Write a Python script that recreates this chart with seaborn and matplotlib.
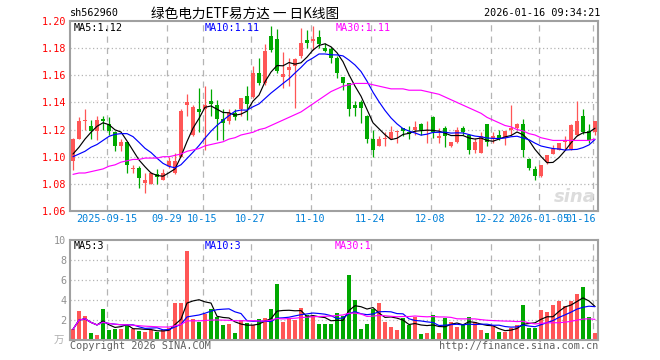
import numpy as np
import pandas as pd
import matplotlib
matplotlib.use("Agg")
import matplotlib.pyplot as plt
from matplotlib import transforms
import seaborn as sns

# ---------------- data ----------------
dates = [
    "2025-09-05", "2025-09-08", "2025-09-09", "2025-09-10", "2025-09-11", "2025-09-12",
    "2025-09-15", "2025-09-16", "2025-09-17", "2025-09-18", "2025-09-19", "2025-09-22",
    "2025-09-23", "2025-09-24", "2025-09-25", "2025-09-26", "2025-09-29", "2025-09-30",
    "2025-10-09", "2025-10-10", "2025-10-13", "2025-10-14", "2025-10-15", "2025-10-16",
    "2025-10-17", "2025-10-20", "2025-10-21", "2025-10-22", "2025-10-23", "2025-10-24",
    "2025-10-27", "2025-10-28", "2025-10-29", "2025-10-30", "2025-10-31",
    "2025-11-03", "2025-11-04", "2025-11-05", "2025-11-06", "2025-11-07",
    "2025-11-10", "2025-11-11", "2025-11-12", "2025-11-13", "2025-11-14",
    "2025-11-17", "2025-11-18", "2025-11-19", "2025-11-20", "2025-11-21",
    "2025-11-24", "2025-11-25", "2025-11-26", "2025-11-27", "2025-11-28",
    "2025-12-01", "2025-12-02", "2025-12-03", "2025-12-04", "2025-12-05",
    "2025-12-08", "2025-12-09", "2025-12-10", "2025-12-11", "2025-12-12",
    "2025-12-15", "2025-12-16", "2025-12-17", "2025-12-18", "2025-12-19",
    "2025-12-22", "2025-12-23", "2025-12-24", "2025-12-25", "2025-12-26",
    "2025-12-29", "2025-12-30", "2025-12-31",
    "2026-01-05", "2026-01-06", "2026-01-07", "2026-01-08", "2026-01-09",
    "2026-01-12", "2026-01-13", "2026-01-14", "2026-01-15", "2026-01-16",
]

opens = [1.097, 1.113, 1.126, 1.123, 1.119, 1.128, 1.124, 1.118, 1.108, 1.111,
         1.091, 1.092, 1.081, 1.080, 1.087, 1.083, 1.093, 1.088, 1.100, 1.138,
         1.116, 1.135, 1.135, 1.141, 1.138, 1.128, 1.126, 1.132, 1.135, 1.145,
         1.144, 1.162, 1.154, 1.189, 1.187, 1.159, 1.164, 1.167, 1.174, 1.186,
         1.185, 1.188, 1.180, 1.179, 1.173, 1.159, 1.154, 1.138, 1.140, 1.130,
         1.113, 1.108, 1.113, 1.113, 1.118, 1.121, 1.118, 1.120, 1.124, 1.119,
         1.129, 1.114, 1.121, 1.108, 1.111, 1.121, 1.116, 1.105, 1.103, 1.124,
         1.114, 1.116, 1.114, 1.120, 1.121, 1.124, 1.098, 1.091, 1.086, 1.096,
         1.102, 1.105, 1.111, 1.106, 1.116, 1.130, 1.119, 1.118]
highs = [1.114, 1.129, 1.135, 1.127, 1.130, 1.130, 1.129, 1.119, 1.113, 1.111,
         1.094, 1.093, 1.088, 1.089, 1.091, 1.091, 1.100, 1.103, 1.135, 1.146,
         1.138, 1.151, 1.152, 1.150, 1.142, 1.135, 1.135, 1.135, 1.143, 1.152,
         1.167, 1.173, 1.183, 1.196, 1.194, 1.177, 1.173, 1.173, 1.195, 1.193,
         1.196, 1.193, 1.184, 1.181, 1.174, 1.159, 1.154, 1.141, 1.142, 1.131,
         1.120, 1.115, 1.118, 1.123, 1.119, 1.121, 1.123, 1.126, 1.125, 1.126,
         1.130, 1.121, 1.123, 1.111, 1.122, 1.123, 1.117, 1.114, 1.118, 1.124,
         1.118, 1.120, 1.119, 1.138, 1.125, 1.128, 1.099, 1.093, 1.094, 1.101,
         1.109, 1.110, 1.115, 1.124, 1.141, 1.135, 1.124, 1.126]
lows = [1.090, 1.113, 1.120, 1.113, 1.112, 1.120, 1.116, 1.104, 1.104, 1.088,
        1.088, 1.077, 1.073, 1.080, 1.080, 1.083, 1.092, 1.087, 1.100, 1.130,
        1.115, 1.118, 1.105, 1.130, 1.112, 1.112, 1.124, 1.127, 1.130, 1.127,
        1.143, 1.153, 1.153, 1.177, 1.162, 1.151, 1.152, 1.136, 1.173, 1.180,
        1.179, 1.180, 1.177, 1.169, 1.158, 1.149, 1.130, 1.130, 1.125, 1.110,
        1.100, 1.108, 1.108, 1.113, 1.110, 1.115, 1.113, 1.116, 1.116, 1.110,
        1.114, 1.110, 1.107, 1.107, 1.110, 1.116, 1.102, 1.103, 1.103, 1.108,
        1.110, 1.112, 1.109, 1.116, 1.120, 1.100, 1.090, 1.083, 1.085, 1.095,
        1.102, 1.105, 1.105, 1.105, 1.115, 1.117, 1.110, 1.116]
closes = [1.113, 1.126, 1.127, 1.119, 1.127, 1.126, 1.119, 1.108, 1.111, 1.094,
          1.091, 1.084, 1.083, 1.088, 1.085, 1.088, 1.097, 1.097, 1.134, 1.140,
          1.137, 1.133, 1.138, 1.139, 1.128, 1.125, 1.132, 1.129, 1.143, 1.139,
          1.162, 1.154, 1.178, 1.179, 1.163, 1.161, 1.166, 1.172, 1.184, 1.184,
          1.187, 1.183, 1.178, 1.173, 1.162, 1.154, 1.135, 1.136, 1.136, 1.113,
          1.105, 1.113, 1.114, 1.118, 1.118, 1.119, 1.117, 1.122, 1.120, 1.120,
          1.118, 1.114, 1.115, 1.111, 1.120, 1.118, 1.105, 1.111, 1.115, 1.111,
          1.115, 1.113, 1.119, 1.120, 1.124, 1.105, 1.092, 1.086, 1.094, 1.101,
          1.106, 1.110, 1.111, 1.123, 1.126, 1.118, 1.112, 1.126]
volumes = [1.07, 2.90, 2.40, 0.67, 0.50, 3.07, 0.97, 1.07, 1.07, 1.47,
           1.07, 0.90, 0.83, 0.97, 0.83, 1.00, 1.23, 3.67, 3.67, 8.90,
           2.07, 1.83, 2.60, 3.07, 2.30, 1.47, 1.57, 0.67, 1.97, 1.73,
           1.50, 2.07, 2.23, 3.07, 5.57, 1.83, 2.17, 1.97, 3.17, 2.50,
           2.40, 1.57, 1.57, 1.57, 2.73, 2.40, 6.47, 3.97, 1.07, 1.57,
           3.13, 3.73, 1.80, 1.30, 0.97, 2.17, 1.50, 2.30, 0.57, 0.67,
           2.47, 0.73, 2.17, 1.83, 1.30, 1.57, 2.27, 1.83, 0.97, 0.67,
           1.40, 0.80, 0.83, 1.23, 1.50, 3.47, 1.23, 1.17, 2.97, 2.77,
           3.50, 3.90, 3.40, 3.90, 4.57, 5.30, 2.33, 0.67]

# moving-average values read where the window reaches before the first shown day
ma5_head = [1.102, 1.107, 1.113, 1.118]
ma10_head = [1.100, 1.102, 1.104, 1.107, 1.109, 1.112, 1.115, 1.1165, 1.117]
ma30 = [1.087, 1.088, 1.088, 1.089, 1.090, 1.091, 1.093, 1.094, 1.096, 1.097,
        1.098, 1.098, 1.099, 1.099, 1.099, 1.100, 1.100, 1.101, 1.102, 1.104,
        1.105, 1.106, 1.108, 1.109, 1.110, 1.111, 1.113, 1.114, 1.116, 1.117,
        1.118, 1.120, 1.121, 1.123, 1.125, 1.127, 1.129, 1.131, 1.133, 1.136,
        1.139, 1.142, 1.145, 1.148, 1.150, 1.152, 1.153, 1.154, 1.154, 1.154,
        1.153, 1.152, 1.151, 1.150, 1.150, 1.150, 1.149, 1.149, 1.149, 1.148,
        1.147, 1.146, 1.144, 1.142, 1.140, 1.138, 1.136, 1.134, 1.132, 1.129,
        1.127, 1.125, 1.123, 1.122, 1.120, 1.119, 1.117, 1.116, 1.114, 1.113,
        1.112, 1.112, 1.112, 1.112, 1.112, 1.112, 1.112, 1.113]

tick_dates = ["2025-09-15", "2025-09-29", "2025-10-15", "2025-10-27", "2025-11-10",
              "2025-11-24", "2025-12-08", "2025-12-22", "2026-01-05", "2026-01-16"]
tick_labels = ["2025-09-15", "09-29", "10-15", "10-27", "11-10",
               "11-24", "12-08", "12-22", "2026-01-05", "01-16"]
price_ticks = [1.06, 1.08, 1.10, 1.12, 1.14, 1.16, 1.18, 1.20]
price_tick_labels = ["1.06", "1.08", "1.10", "1.12", "1.14", "1.16", "1.18", "1.20"]
vol_ticks = [2, 4, 6, 8, 10]
vol_tick_labels = ["2", "4", "6", "8", "10"]

title = "绿色电力ETF易方达 一 日K线图"
code = "sh562960"
stamp = "2026-01-16 09:34:21"
price_ma_labels = ["MA5:1.12", "MA10:1.11", "MA30:1.11"]
vol_ma_labels = ["MA5:3", "MA10:3", "MA30:1"]

# ---------------- style ----------------
sns.set_style("white")
plt.rcParams["font.family"] = ["DejaVu Sans Mono", "Noto Sans CJK SC"]

RED = "#ff5656"
GREEN = "#00a800"
GRID = "#b4b4b4"
FRAME = "#a0a0a0"
MA_COLORS = ["#000000", "#0000ff", "#ff00ff"]
W, H = 660, 360
FS = 7.3

n = len(dates)
idx = np.arange(n)
df = pd.DataFrame({"idx": idx, "open": opens, "high": highs, "low": lows,
                   "close": closes, "vol": volumes})
df["dir"] = np.where(df["close"] >= df["open"], "up", "down")

ma5 = df["close"].rolling(5).mean().to_numpy()
ma5[:len(ma5_head)] = ma5_head
ma10 = df["close"].rolling(10).mean().to_numpy()
ma10[:len(ma10_head)] = ma10_head
vma5 = df["vol"].rolling(5, min_periods=1).mean().to_numpy()
vma10 = df["vol"].rolling(10, min_periods=1).mean().to_numpy()
vma30 = df["vol"].rolling(30, min_periods=1).mean().to_numpy()

fig = plt.figure(figsize=(W / 100, H / 100), dpi=100)
fig.patch.set_facecolor("white")


def px_axes(x0, y0, x1, y1):
    return fig.add_axes([x0 / W, 1 - y1 / H, (x1 - x0) / W, (y1 - y0) / H])


ax = px_axes(70, 21, 598, 211)
axv = px_axes(70, 240, 598, 340)

tick_pos = [dates.index(d) for d in tick_dates]
grid_x = [p - 0.4 for p in tick_pos]

# ---------------- price panel ----------------
cols = np.where(df["dir"] == "up", RED, GREEN)
ax.vlines(idx, df["low"], df["high"], colors=cols, lw=0.9, zorder=2)
body_bottom = np.minimum(df["open"], df["close"])
body_h = np.maximum(np.abs(df["close"] - df["open"]), 0.0009)
ax.bar(idx, body_h, bottom=body_bottom, width=0.8, color=cols, lw=0, zorder=3)

for vals, c in zip([ma5, ma10, ma30], MA_COLORS):
    sns.lineplot(x=idx, y=vals, color=c, lw=0.85, ax=ax, zorder=4)

ax.set_ylim(1.06, 1.20)
ax.set_yticks(price_ticks)
ax.set_yticklabels(price_tick_labels, color="#ff0000", fontsize=FS)
for yv in price_ticks[1:-1]:
    ax.axhline(yv, color=GRID, lw=0.9, ls=(0, (1, 2)), zorder=0)

for lbl, c, xp in zip(price_ma_labels, MA_COLORS, [74, 205, 336]):
    fig.text(xp / W, 1 - 23 / H, lbl, color=c, fontsize=FS, ha="left", va="top")

trans = transforms.blended_transform_factory(ax.transData, fig.transFigure)
for gx, lab in zip(grid_x, tick_labels):
    ha = "center"
    xx = gx
    if lab == tick_labels[-1]:
        ha = "right"
        xx = gx + 0.5
    ax.text(xx, 1 - 219 / H, lab, transform=trans, color="#0080d8",
            fontsize=FS, ha=ha, va="center", clip_on=False)

fig.text(596 / W, 1 - 197 / H, "sina", color="#dcdcdc", fontsize=13,
         fontstyle="italic", fontweight="bold", ha="right", va="center",
         family="DejaVu Sans")

# ---------------- volume panel ----------------
sns.barplot(data=df, x="idx", y="vol", hue="dir", order=list(idx),
            palette={"up": RED, "down": GREEN}, dodge=False,
            width=0.8, saturation=1, legend=False, errorbar=None,
            linewidth=0, ax=axv, zorder=2)
for vals, c in zip([vma5, vma10, vma30], MA_COLORS):
    sns.lineplot(x=idx, y=vals, color=c, lw=0.85, ax=axv, zorder=4)

axv.set_ylim(0, 10)
axv.set_yticks(vol_ticks)
axv.set_yticklabels(vol_tick_labels, color="#909090", fontsize=FS)
for yv in vol_ticks[:-1]:
    axv.axhline(yv, color=GRID, lw=0.9, ls=(0, (1, 2)), zorder=0)

for lbl, c, xp in zip(vol_ma_labels, MA_COLORS, [74, 205, 335]):
    fig.text(xp / W, 1 - 241 / H, lbl, color=c, fontsize=FS, ha="left", va="top")

for a in (ax, axv):
    a.set_facecolor("white")
    for s in a.spines.values():
        s.set_color(FRAME)
        s.set_linewidth(1.5)
    for gx in grid_x:
        a.axvline(gx, color=GRID, lw=0.9, ls=(0, (5, 4)), zorder=0)
    a.set_xlim(-0.5, n - 0.5)
    a.set_xticks([])
    a.set_xlabel("")
    a.set_ylabel("")
    a.tick_params(axis="y", length=0, pad=2.5)

fig.text(64 / W, 1 - 341 / H, "万", color="#b0b0b0", fontsize=7.5, ha="right",
         va="center", family=["Noto Sans CJK SC"])
fig.text(70 / W, 1 - 346 / H, "Copyright 2026 SINA.COM", color="#606060",
         fontsize=FS, ha="left", va="center")
fig.text(598 / W, 1 - 346 / H, "http://finance.sina.com.cn", color="#606060",
         fontsize=FS, ha="right", va="center")

# ---------------- header ----------------
fig.text(70 / W, 1 - 13 / H, code, color="#000000", fontsize=FS, ha="left", va="center")
fig.text(151 / W, 1 - 14 / H, title, color="#000000", fontsize=9.8, ha="left",
         va="center", family=["Noto Sans CJK SC", "DejaVu Sans"])
fig.text(600 / W, 1 - 13 / H, stamp, color="#000000", fontsize=FS, ha="right", va="center")

fig.savefig("out.png", dpi=100, facecolor="white")
